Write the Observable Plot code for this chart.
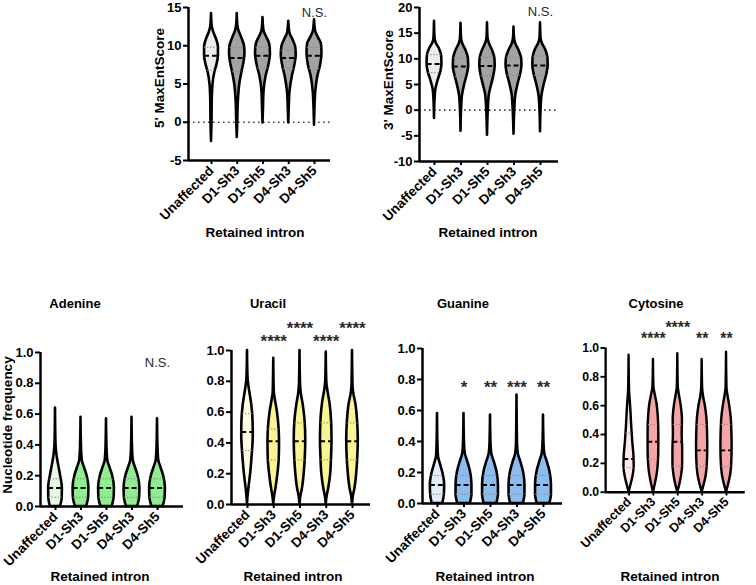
<!DOCTYPE html>
<html><head><meta charset="utf-8">
<script src="https://cdn.jsdelivr.net/npm/d3@7"></script>
<script src="https://cdn.jsdelivr.net/npm/@observablehq/plot@0.6"></script>
<style>
body{margin:0;background:#fff;}
#root{position:relative;width:756px;height:585px;overflow:hidden;font-family:"Liberation Sans",Arial,sans-serif;background:#fff;}
.p{position:absolute;}
.t{position:absolute;font-weight:bold;white-space:nowrap;transform:translate(-50%,-50%);color:#000;line-height:1;}
.ty{transform:translate(-50%,-50%) rotate(-90deg);}
</style></head><body><div id="root"></div>
<script>
const categories = ["Unaffected","D1-Sh3","D1-Sh5","D4-Sh3","D4-Sh5"];

// ---- 5' MaxEntScore ----
const score5Profiles = [
  [[-2.5,0],[0,0.02],[3,0.03],[5,0.06],[6.5,0.13],[7.5,0.21],[8.7,0.27],[9.8,0.27],[10.8,0.2],[11.8,0.08],[12.6,0.025],[14.2,0]],
  [[-2,0],[0,0.02],[2.5,0.04],[5,0.1],[6.5,0.18],[7.8,0.26],[9,0.3],[10,0.28],[11,0.18],[12,0.06],[12.8,0.02],[14.2,0]],
  [[-0.1,0],[2,0.02],[4,0.04],[6,0.12],[7.5,0.23],[9,0.29],[10.2,0.26],[11,0.16],[11.8,0.05],[12.5,0.02],[13.7,0]],
  [[-0.1,0],[2,0.02],[4,0.05],[6,0.14],[7.5,0.24],[8.7,0.29],[9.8,0.27],[10.8,0.16],[11.6,0.05],[12.3,0.02],[13.2,0]],
  [[-0.4,0],[2,0.02],[4,0.05],[6,0.13],[7.5,0.24],[9,0.29],[10.2,0.27],[11,0.16],[11.8,0.05],[12.5,0.02],[13.4,0]]
];
const score5Median = [8.7, 8.4, 8.7, 8.4, 8.7];
const score5Q1 = [6.8, 6.6, 7.1, 7.0, 7.0];
const score5Q3 = [9.8, 9.8, 9.8, 9.4, 9.8];
const score5Ticks = [-5, 0, 5, 10, 15];
const score5Sig = ["", "", "", "", "N.S."];
const score5SigY = [0, 0, 0, 0, 14.3];

// ---- 3' MaxEntScore ----
const score3Profiles = [
  [[-1.6,0],[2,0.02],[4,0.05],[6,0.15],[7.5,0.24],[9,0.28],[10.5,0.27],[12,0.18],[13,0.07],[14,0.02],[17.3,0]],
  [[-4.1,0],[0,0.02],[3,0.06],[5,0.14],[7,0.24],[8.5,0.29],[10,0.28],[11.5,0.2],[13,0.06],[14,0.02],[16.9,0]],
  [[-4.9,0],[0,0.03],[3,0.07],[5,0.16],[7,0.25],[8.6,0.29],[10,0.28],[11.5,0.2],[13,0.07],[14,0.02],[17,0]],
  [[-4.7,0],[0,0.03],[3,0.07],[5,0.15],[7,0.25],[8.7,0.3],[10,0.29],[11.5,0.2],[13,0.06],[14,0.02],[16.2,0]],
  [[-4.2,0],[0,0.02],[3,0.06],[5,0.14],[7,0.24],[8.7,0.29],[10.2,0.28],[11.8,0.19],[13,0.07],[14,0.02],[17,0]]
];
const score3Median = [9.0, 8.5, 8.6, 8.7, 8.7];
const score3Q1 = [7.3, 6.5, 6.7, 6.8, 6.8];
const score3Q3 = [10.8, 10.2, 10.3, 10.3, 10.5];
const score3Ticks = [-10, -5, 0, 5, 10, 15, 20];
const score3Sig = ["", "", "", "", "N.S."];
const score3SigY = [0, 0, 0, 0, 19.2];

// ---- Adenine ----
const adenineProfiles = [
  [[0,0.2],[0.05,0.26],[0.12,0.27],[0.2,0.2],[0.28,0.11],[0.33,0.06],[0.4,0.02],[0.64,0]],
  [[0,0.22],[0.06,0.3],[0.12,0.31],[0.2,0.24],[0.26,0.12],[0.3,0.05],[0.38,0.02],[0.58,0]],
  [[0,0.22],[0.06,0.3],[0.12,0.31],[0.2,0.24],[0.26,0.12],[0.3,0.05],[0.38,0.02],[0.57,0]],
  [[0,0.22],[0.06,0.3],[0.12,0.31],[0.2,0.24],[0.26,0.12],[0.3,0.05],[0.38,0.02],[0.58,0]],
  [[0,0.22],[0.06,0.3],[0.12,0.31],[0.2,0.24],[0.26,0.12],[0.3,0.05],[0.38,0.02],[0.57,0]]
];
const adenineMedian = [0.12, 0.12, 0.12, 0.12, 0.12];
const adenineQ1 = [0.06, 0.06, 0.06, 0.06, 0.06];
const adenineQ3 = [0.18, 0.18, 0.18, 0.18, 0.18];
const adenineSig = ["", "", "", "", "N.S."];
const adenineSigY = [0, 0, 0, 0, 0.93];

// ---- Uracil ----
const uracilProfiles = [
  [[0,0],[0.05,0.02],[0.1,0.05],[0.2,0.12],[0.3,0.17],[0.45,0.22],[0.55,0.21],[0.65,0.16],[0.75,0.07],[0.8,0.03],[0.85,0.015],[1.0,0]],
  [[0,0],[0.05,0.03],[0.1,0.08],[0.2,0.16],[0.3,0.21],[0.4,0.22],[0.5,0.2],[0.6,0.14],[0.68,0.06],[0.73,0.02],[0.95,0]],
  [[0,0],[0.05,0.03],[0.1,0.09],[0.2,0.16],[0.3,0.2],[0.42,0.22],[0.55,0.19],[0.65,0.12],[0.72,0.05],[0.78,0.02],[1.0,0]],
  [[0,0],[0.05,0.03],[0.1,0.09],[0.2,0.17],[0.3,0.2],[0.42,0.22],[0.55,0.2],[0.66,0.14],[0.74,0.06],[0.8,0.02],[0.99,0]],
  [[0,0],[0.05,0.03],[0.1,0.09],[0.2,0.16],[0.3,0.2],[0.42,0.22],[0.55,0.19],[0.65,0.13],[0.72,0.05],[0.77,0.02],[1.0,0]]
];
const uracilMedian = [0.47, 0.41, 0.41, 0.41, 0.41];
const uracilQ1 = [0.35, 0.29, 0.29, 0.29, 0.29];
const uracilQ3 = [0.59, 0.49, 0.53, 0.53, 0.53];
const uracilSig = ["", "****", "****", "****", "****"];
const uracilSigY = [0, 1.08, 1.16, 1.08, 1.16];

// ---- Guanine ----
const guanineProfiles = [
  [[0,0.2],[0.06,0.26],[0.12,0.27],[0.2,0.2],[0.26,0.1],[0.3,0.04],[0.36,0.02],[0.58,0]],
  [[0,0.24],[0.06,0.3],[0.12,0.3],[0.2,0.25],[0.27,0.14],[0.32,0.05],[0.38,0.02],[0.58,0]],
  [[0,0.24],[0.06,0.3],[0.12,0.3],[0.2,0.25],[0.27,0.14],[0.32,0.05],[0.38,0.02],[0.57,0]],
  [[0,0.24],[0.06,0.3],[0.12,0.3],[0.2,0.25],[0.27,0.14],[0.32,0.05],[0.38,0.02],[0.70,0]],
  [[0,0.24],[0.06,0.3],[0.12,0.3],[0.2,0.25],[0.27,0.14],[0.32,0.05],[0.38,0.02],[0.57,0]]
];
const guanineMedian = [0.12, 0.12, 0.12, 0.12, 0.12];
const guanineQ1 = [0.06, 0.06, 0.06, 0.06, 0.06];
const guanineQ3 = [0.18, 0.18, 0.18, 0.18, 0.18];
const guanineSig = ["", "*", "**", "***", "**"];
const guanineSigY = [0, 0.77, 0.77, 0.77, 0.77];

// ---- Cytosine ----
const cytosineProfiles = [
  [[0,0],[0.04,0.06],[0.1,0.15],[0.18,0.21],[0.25,0.2],[0.35,0.15],[0.45,0.11],[0.55,0.08],[0.63,0.05],[0.7,0.02],[0.95,0]],
  [[0,0],[0.05,0.07],[0.12,0.15],[0.2,0.2],[0.3,0.22],[0.42,0.22],[0.52,0.2],[0.62,0.14],[0.68,0.07],[0.73,0.02],[0.92,0]],
  [[0,0],[0.05,0.08],[0.12,0.16],[0.2,0.2],[0.3,0.2],[0.4,0.18],[0.5,0.19],[0.6,0.14],[0.68,0.06],[0.73,0.02],[0.96,0]],
  [[0,0],[0.05,0.08],[0.12,0.17],[0.22,0.22],[0.32,0.23],[0.42,0.22],[0.52,0.19],[0.6,0.13],[0.66,0.06],[0.72,0.02],[0.92,0]],
  [[0,0],[0.05,0.08],[0.12,0.17],[0.22,0.22],[0.32,0.23],[0.42,0.22],[0.52,0.19],[0.6,0.13],[0.67,0.06],[0.72,0.02],[0.97,0]]
];
const cytosineMedian = [0.23, 0.35, 0.35, 0.29, 0.29];
const cytosineQ1 = [0.17, 0.23, 0.18, 0.18, 0.18];
const cytosineQ3 = [0.41, 0.47, 0.47, 0.47, 0.47];
const cytosineSig = ["", "****", "****", "**", "**"];
const cytosineSigY = [0, 1.08, 1.16, 1.08, 1.08];

const freqTicks = [0, 0.2, 0.4, 0.6, 0.8, 1.0];

const grayFill = ["#ececec", "#a3a3a3"];
const greenFill = ["#e6f9e1", "#90ee90"];
const yellowFill = ["#fffde2", "#faf592"];
const blueFill = ["#e3eefa", "#8dbdef"];
const pinkFill = ["#fde9e9", "#f5a5a5"];

// layout (pixels) for each panel
const layout = {
  s5: {axisL:188, axisR:330, yTop:7, yBot:160, cat0:211, step:25.75, svgTop:0},
  s3: {axisL:419, axisR:558, yTop:7, yBot:161, cat0:434, step:26.5, svgTop:0},
  A:  {axisL:40, axisR:183, yTop:352, yBot:506, cat0:55, step:25.5, svgTop:310},
  U:  {axisL:231, axisR:370, yTop:350, yBot:504, cat0:247, step:26.25, svgTop:310},
  G:  {axisL:422, axisR:562, yTop:348, yBot:503, cat0:437, step:26.5, svgTop:310},
  C:  {axisL:608, axisR:757, yTop:350, yBot:504, cat0:633, step:26, svgTop:310}
};

function halfAt(prof, v) {
  for (let k = 0; k < prof.length - 1; k++) {
    const [a, wa] = prof[k], [b, wb] = prof[k + 1];
    if (v >= a && v <= b) return wa + (wb - wa) * (v - a) / (b - a);
  }
  return 0;
}

function panel({profiles, median, q1, q3, ticks, yDomain, fmt, sig, sigY, sigSize, sigWeight, colors, geo, zero}) {
  const mL = 45, mR = 12, mB = 80;
  const xd = [(geo.axisL - geo.cat0) / geo.step, (geo.axisR - geo.cat0) / geo.step];
  const rows = [];
  profiles.forEach((prof, i) => prof.forEach(([v, w]) => rows.push({i, v, x1: i - w, x2: i + w})));
  const lineRows = (vals) => vals.map((v, i) => ({i, v, x1: i - halfAt(profiles[i], v), x2: i + halfAt(profiles[i], v)}));
  const sigRows = sig.map((label, i) => ({i, label, v: sigY[i]})).filter(d => d.label);
  const plot = Plot.plot({
    width: mL + (geo.axisR - geo.axisL) + mR,
    height: (geo.yBot - geo.svgTop) + mB,
    marginLeft: mL, marginRight: mR, marginTop: geo.yTop - geo.svgTop, marginBottom: mB,
    x: {type: "linear", domain: xd, axis: null},
    y: {type: "linear", domain: yDomain, axis: null},
    style: {fontFamily: "'Liberation Sans', Arial, sans-serif", fontWeight: "bold", fontSize: "13px", overflow: "visible", background: "transparent", color: "#000"},
    marks: [
      zero ? Plot.ruleY([0], {stroke: "#444", strokeWidth: 1.6, strokeDasharray: "1.6,3.4"}) : null,
      Plot.areaX(rows, {y: "v", x1: "x1", x2: "x2", z: "i", fill: d => colors[d.i === 0 ? 0 : 1], stroke: "#000", strokeWidth: 2.6, strokeLinejoin: "round", curve: "monotone-y"}),
      Plot.ruleY(lineRows(q1), {y: "v", x1: "x1", x2: "x2", stroke: "#8a8a8a", strokeWidth: 1, strokeDasharray: "1.5,1.5"}),
      Plot.ruleY(lineRows(q3), {y: "v", x1: "x1", x2: "x2", stroke: "#8a8a8a", strokeWidth: 1, strokeDasharray: "1.5,1.5"}),
      Plot.ruleY(lineRows(median), {y: "v", x1: "x1", x2: "x2", stroke: "#000", strokeWidth: 2, strokeDasharray: "5,3"}),
      Plot.axisY({ticks, tickFormat: fmt, tickSize: 5, tickPadding: 2, strokeWidth: 2, label: null, fontSize: 13}),
      Plot.axisX({ticks: [0, 1, 2, 3, 4], tickFormat: i => categories[i], tickRotate: -45, tickSize: 4, tickPadding: 4, strokeWidth: 2, label: null, fontSize: 13.5}),
      Plot.ruleX([xd[0]], {y1: yDomain[0], y2: yDomain[1], stroke: "#000", strokeWidth: 2.5}),
      Plot.ruleY([yDomain[0]], {x1: xd[0], x2: xd[1], stroke: "#000", strokeWidth: 2.5}),
      Plot.text(sigRows, {x: "i", y: "v", text: "label", fontWeight: sigWeight, fontSize: sigSize, fill: "#2a2a2a", dy: sigWeight === "bold" ? 3 : 0})
    ]
  });
  const div = document.createElement("div");
  div.className = "p";
  div.style.left = (geo.axisL - mL) + "px";
  div.style.top = geo.svgTop + "px";
  div.appendChild(plot);
  return div;
}

const root = document.getElementById("root");
const f1 = d3.format(".1f");

root.appendChild(panel({profiles: score5Profiles, median: score5Median, q1: score5Q1, q3: score5Q3, ticks: score5Ticks, yDomain: [-5, 15], fmt: d => d, sig: score5Sig, sigY: score5SigY, sigSize: 13, sigWeight: "normal", colors: grayFill, geo: layout.s5, zero: true}));
root.appendChild(panel({profiles: score3Profiles, median: score3Median, q1: score3Q1, q3: score3Q3, ticks: score3Ticks, yDomain: [-10, 20], fmt: d => d, sig: score3Sig, sigY: score3SigY, sigSize: 13, sigWeight: "normal", colors: grayFill, geo: layout.s3, zero: true}));
root.appendChild(panel({profiles: adenineProfiles, median: adenineMedian, q1: adenineQ1, q3: adenineQ3, ticks: freqTicks, yDomain: [0, 1], fmt: f1, sig: adenineSig, sigY: adenineSigY, sigSize: 13, sigWeight: "normal", colors: greenFill, geo: layout.A}));
root.appendChild(panel({profiles: uracilProfiles, median: uracilMedian, q1: uracilQ1, q3: uracilQ3, ticks: freqTicks, yDomain: [0, 1], fmt: f1, sig: uracilSig, sigY: uracilSigY, sigSize: 17, sigWeight: "bold", colors: yellowFill, geo: layout.U}));
root.appendChild(panel({profiles: guanineProfiles, median: guanineMedian, q1: guanineQ1, q3: guanineQ3, ticks: freqTicks, yDomain: [0, 1], fmt: f1, sig: guanineSig, sigY: guanineSigY, sigSize: 17, sigWeight: "bold", colors: blueFill, geo: layout.G}));
root.appendChild(panel({profiles: cytosineProfiles, median: cytosineMedian, q1: cytosineQ1, q3: cytosineQ3, ticks: freqTicks, yDomain: [0, 1], fmt: f1, sig: cytosineSig, sigY: cytosineSigY, sigSize: 17, sigWeight: "bold", colors: pinkFill, geo: layout.C}));

const labels = [
  ["5' MaxEntScore", 160, 78, 13.5, true],
  ["3' MaxEntScore", 389, 80, 13.5, true],
  ["Nucleotide frequency", 8, 425, 13.5, true],
  ["Retained intron", 255, 233, 13.5, false],
  ["Retained intron", 488, 233, 13.5, false],
  ["Retained intron", 100, 577, 13.5, false],
  ["Retained intron", 293, 577, 13.5, false],
  ["Retained intron", 485, 577, 13.5, false],
  ["Retained intron", 670, 577, 13.5, false],
  ["Adenine", 75, 303, 13, false],
  ["Uracil", 268, 303, 13, false],
  ["Guanine", 463, 303, 13, false],
  ["Cytosine", 656, 303, 13, false]
];
for (const [txt, x, y, fs, rot] of labels) {
  const d = document.createElement("div");
  d.className = "t" + (rot ? " ty" : "");
  d.textContent = txt;
  d.style.left = x + "px";
  d.style.top = y + "px";
  d.style.fontSize = fs + "px";
  root.appendChild(d);
}
</script>
</body></html>
